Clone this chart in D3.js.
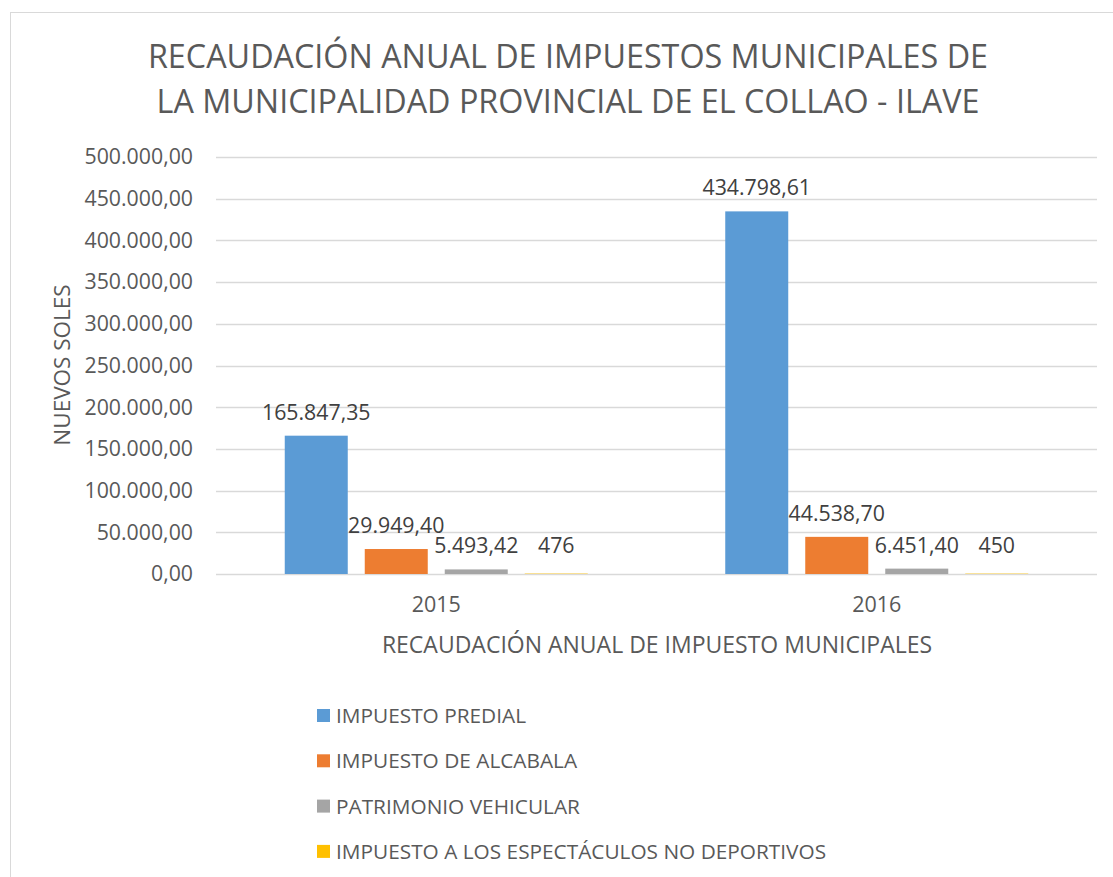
<!DOCTYPE html>
<html><head><meta charset="utf-8">
<script src="https://cdn.jsdelivr.net/npm/d3@7"></script>
<style>body{margin:0;background:#fff;} text{font-family:"Open Sans",sans-serif;}</style>
</head><body><svg id="c" width="1113" height="877"></svg>
<script>
const categories = ["2015", "2016"];
const seriesNames = ["IMPUESTO PREDIAL", "IMPUESTO DE ALCABALA", "PATRIMONIO VEHICULAR", "IMPUESTO A LOS ESPECTÁCULOS NO DEPORTIVOS"];
const predial = [165847.35, 434798.61];
const alcabala = [29949.40, 44538.70];
const vehicular = [5493.42, 6451.40];
const espectaculos = [476, 450];
const labelsPredial = ["165.847,35", "434.798,61"];
const labelsAlcabala = ["29.949,40", "44.538,70"];
const labelsVehicular = ["5.493,42", "6.451,40"];
const labelsEspect = ["476", "450"];
const yTicks = [0, 50000, 100000, 150000, 200000, 250000, 300000, 350000, 400000, 450000, 500000];
const colors = ["#5B9BD5", "#ED7D31", "#A5A5A5", "#FFC000"];

const series = [predial, alcabala, vehicular, espectaculos];
const labels = [labelsPredial, labelsAlcabala, labelsVehicular, labelsEspect];

const svg = d3.select("#c");
svg.append("rect").attr("x",10.5).attr("y",12.5).attr("width",1120).attr("height",900)
  .attr("fill","#fff").attr("stroke","#d9d9d9").attr("stroke-width",1);

const x0 = d3.scaleBand().domain(categories).range([216, 1097]).paddingInner(0).paddingOuter(0);
const y = d3.scaleLinear().domain([0, 500000]).range([574, 157]);
const fmt = v => d3.format(",.2f")(v).replace(/,/g,"#").replace(".",",").replace(/#/g,".");

// gridlines
svg.append("g").selectAll("line").data(yTicks).join("line")
  .attr("x1",216).attr("x2",1097).attr("y1",d=>Math.round(y(d))+0.5).attr("y2",d=>Math.round(y(d))+0.5)
  .attr("stroke","#d9d9d9").attr("stroke-width",1.3);

// y axis labels
const yAxis = d3.axisLeft(y).tickValues(yTicks).tickFormat(fmt).tickSize(0).tickPadding(0);
const gy = svg.append("g").attr("transform","translate(193,0)").call(yAxis);
gy.select(".domain").remove();
gy.selectAll("text").attr("fill","#595959").style("font-size","21.3px").style("font-family","'Open Sans',sans-serif");

// x axis labels
const xAxis = d3.axisBottom(x0).tickSize(0).tickPadding(0);
const gx = svg.append("g").attr("transform","translate(0,597)").call(xAxis);
gx.select(".domain").remove();
gx.selectAll("text").attr("fill","#595959").style("font-size","21.5px").style("font-family","'Open Sans',sans-serif");

// bars: group of 4 bars
const barW = 63, gap = 17;
const groupW = 4*barW + 3*gap;
const x1 = i => (x0.bandwidth() - groupW)/2 + i*(barW+gap);

series.forEach((s, si) => {
  const g = svg.append("g");
  g.selectAll("rect").data(categories).join("rect")
    .attr("x",(c,ci)=>x0(c)+x1(si)).attr("width",barW)
    .attr("y",(c,ci)=>y(s[ci])).attr("height",(c,ci)=>y(0)-y(s[ci]))
    .attr("fill",colors[si]);
  g.selectAll("text").data(categories).join("text")
    .attr("x",(c,ci)=>x0(c)+x1(si)+barW/2)
    .attr("y",(c,ci)=>Math.min(y(s[ci])-16, 553))
    .attr("text-anchor","middle").attr("fill","#404040").style("font-size","21.3px")
    .text((c,ci)=>labels[si][ci]);
});

// title
const title = svg.append("text").attr("text-anchor","middle").attr("fill","#595959").style("font-size","32.3px");
title.append("tspan").attr("x",568).attr("y",68).text("RECAUDACIÓN ANUAL DE IMPUESTOS MUNICIPALES DE");
title.append("tspan").attr("x",568).attr("y",113).text("LA MUNICIPALIDAD PROVINCIAL DE EL COLLAO - ILAVE");

// axis titles
svg.append("text").attr("transform","translate(70,365) rotate(-90)").attr("text-anchor","middle")
  .attr("fill","#595959").style("font-size","22.5px").text("NUEVOS SOLES");
svg.append("text").attr("x",657).attr("y",653).attr("text-anchor","middle")
  .attr("fill","#595959").style("font-size","23px").text("RECAUDACIÓN ANUAL DE IMPUESTO MUNICIPALES");

// legend
const lg = svg.append("g").selectAll("g").data(seriesNames).join("g")
  .attr("transform",(d,i)=>`translate(317,${709 + i*45.3})`);
lg.append("rect").attr("width",13).attr("height",13).attr("fill",(d,i)=>colors[i]);
lg.append("text").attr("x",19).attr("y",14).attr("fill","#595959").style("font-size","20.8px").text(d=>d);
</script></body></html>
